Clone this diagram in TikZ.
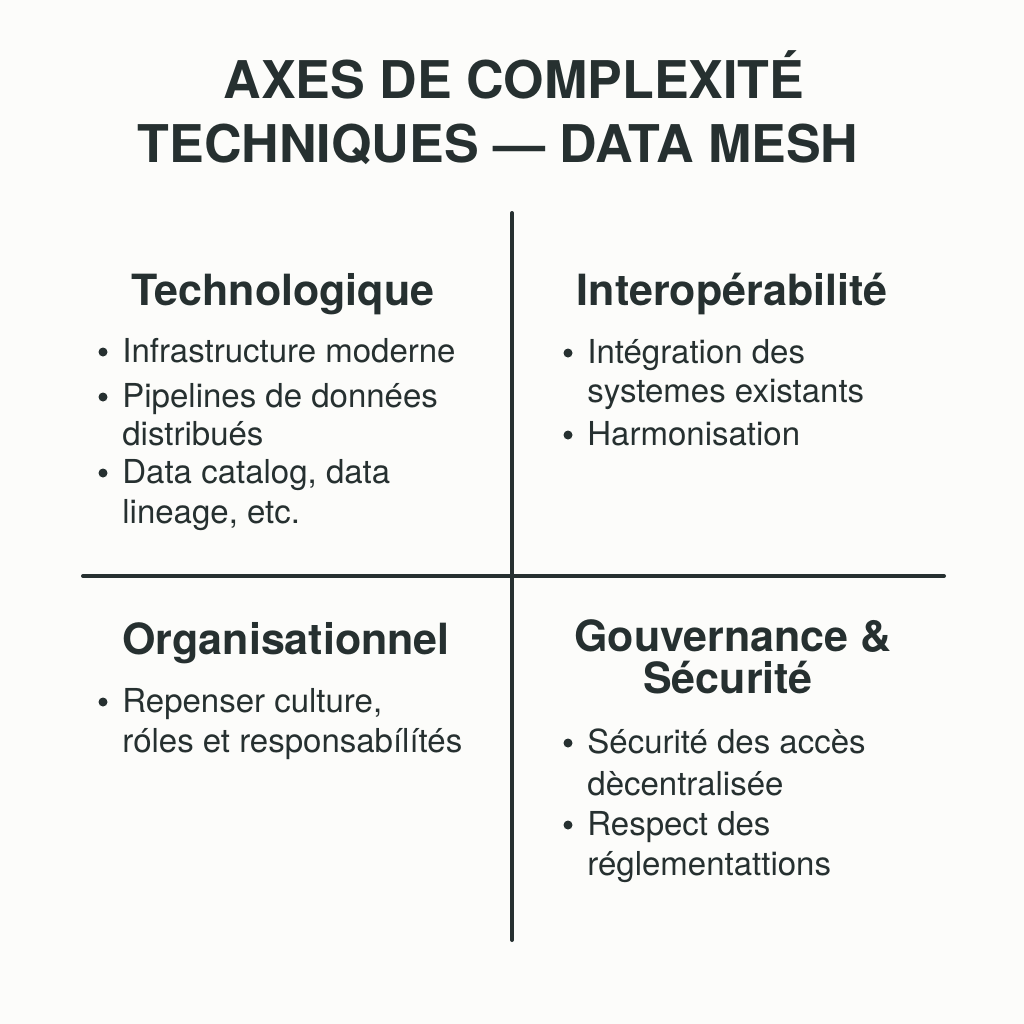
\documentclass[tikz,border=0pt]{standalone}
\usepackage{fontspec}
\setmainfont{TeX Gyre Heros}
\usetikzlibrary{positioning}
\definecolor{inkgray}{RGB}{38,48,48}
\definecolor{paper}{RGB}{252,252,250}
\tikzset{
  bigtitle/.style={font=\bfseries\fontsize{26}{30}\selectfont, text=inkgray, anchor=base, inner sep=0pt},
  heading/.style={font=\bfseries\fontsize{21.5}{26}\selectfont, text=inkgray, anchor=base, inner sep=0pt},
  item/.style={font=\fontsize{16.5}{20}\selectfont, text=inkgray, anchor=base west, inner sep=0pt},
  dot/.style={circle, fill=inkgray, inner sep=0pt, minimum size=4.5pt},
  axis/.style={line width=2pt, inkgray, line cap=round}
}

\begin{document}
\begin{tikzpicture}[x=0.5pt, y=-0.5pt]
\fill[paper] (0,0) rectangle (1024,1024);
\useasboundingbox (0,0) rectangle (1024,1024);

% title
\node[bigtitle] (title1) at (514,98) {AXES DE COMPLEXITÉ};
\node[bigtitle] (title2) at (498,162) {TECHNIQUES — DATA MESH};

% the two axes
\coordinate (vtop) at (512,213);
\coordinate (vbot) at (512,940);
\coordinate (hleft) at (83,576);
\coordinate (hright) at (944,576);
\draw[axis] (vtop) -- (vbot);
\draw[axis] (hleft) -- (hright);

% top left
\node[heading] (techno) at (283,305) {Technologique};
\node[dot] (d11) at (103,352) {};
\node[item] (t11) at (122,362) {Infrastructure moderne};
\node[dot] (d12) at (103,397) {};
\node[item] (t12) at (122,407) {Pipelines de données};
\node[item] (t12b) at (122,445) {distribués};
\node[dot] (d13) at (103,473) {};
\node[item] (t13) at (122,483) {Data catalog, data};
\node[item] (t13b) at (122,523) {lineage, etc.};

% top right
\node[heading] (interop) at (732,305) {Interopérabilité};
\node[dot] (d21) at (568,353) {};
\node[item] (t21) at (587,363) {Intégration des};
\node[item] (t21b) at (587,402) {systemes existants};
\node[dot] (d22) at (568,435) {};
\node[item] (t22) at (587,445) {Harmonisation};

% bottom left
\node[heading] (orga) at (286,654) {Organisationnel};
\node[dot] (d31) at (103,702) {};
\node[item] (t31) at (122,712) {Repenser culture,};
\node[item] (t31b) at (122,752) {róles et responsabílítés};

% bottom right
\node[heading] (gouv) at (733,651) {Gouvernance \&};
\node[heading] (secu) at (728,693) {Sécurité};
\node[dot] (d41) at (568,743) {};
\node[item] (t41) at (587,753) {Sécurité des accès};
\node[item] (t41b) at (587,795) {dècentralisée};
\node[dot] (d42) at (568,825) {};
\node[item] (t42) at (587,835) {Respect des};
\node[item] (t42b) at (587,875) {réglementattions};
\end{tikzpicture}
\end{document}
